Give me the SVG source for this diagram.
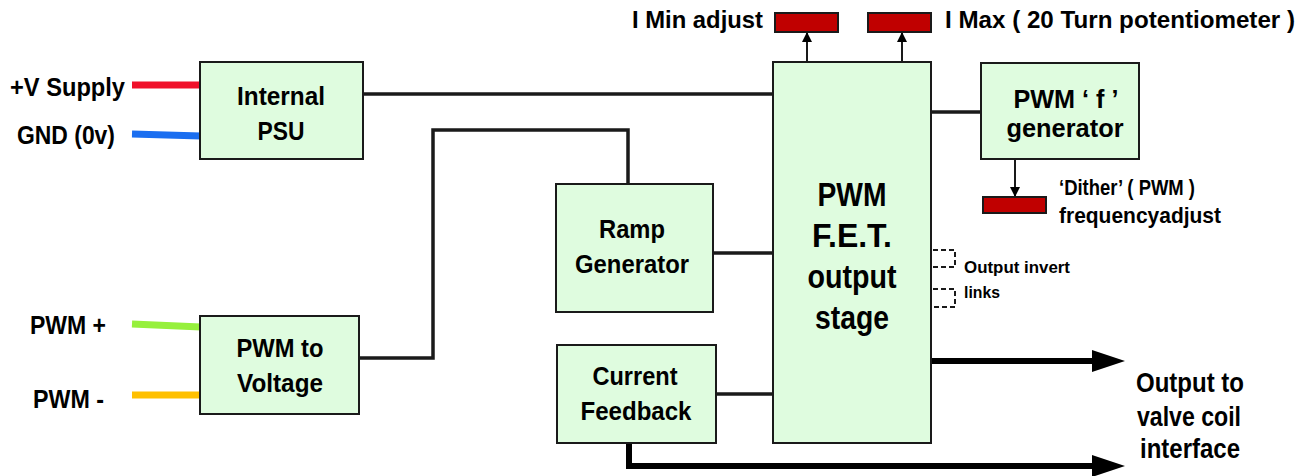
<svg xmlns="http://www.w3.org/2000/svg" width="1305" height="476" viewBox="0 0 1305 476">
<style>
text{font-family:"Liberation Sans",Arial,sans-serif;font-weight:bold;fill:#000}
.box{fill:#dffcdf;stroke:#1a1a1a;stroke-width:2}
.pot{fill:#c00000;stroke:#1a1a1a;stroke-width:2}
.ln{fill:none;stroke:#1a1a1a;stroke-width:3.5}
.thin{fill:none;stroke:#1a1a1a;stroke-width:2}
.thick{fill:none;stroke:#000;stroke-width:6}
.dash{fill:none;stroke:#1a1a1a;stroke-width:2;stroke-dasharray:5 3}
.bt{font-size:26px;text-anchor:middle}
.lbl{font-size:25px}
</style>
<defs>
<marker id="small" markerWidth="10" markerHeight="10" refX="9" refY="5" orient="auto" markerUnits="userSpaceOnUse">
<path d="M0,0 L10,5 L0,10 Z" fill="#000"/>
</marker>
<marker id="big" markerWidth="34" markerHeight="22" refX="0" refY="11" orient="auto" markerUnits="userSpaceOnUse">
<path d="M0,0 L33,11 L0,22 Z" fill="#000"/>
</marker>
</defs>
<rect width="1305" height="476" fill="#fff"/>

<g id="connectors">
<line x1="132" y1="85" x2="201" y2="85" stroke="#f0102a" stroke-width="7"/>
<line x1="132" y1="134" x2="201" y2="136" stroke="#1a6ef0" stroke-width="7"/>
<line x1="132" y1="324" x2="201" y2="327" stroke="#96f03c" stroke-width="7"/>
<line x1="132" y1="395" x2="201" y2="395" stroke="#ffc000" stroke-width="7"/>
<path class="ln" d="M363,94 H773"/>
<path class="ln" d="M359,358 H433 V130 H628 V184"/>
<path class="ln" d="M713,253 H773"/>
<path class="ln" d="M716,394 H773"/>
<path class="ln" d="M931,112 H981"/>
<path class="thin" d="M807,62 V33" marker-end="url(#small)"/>
<path class="thin" d="M902,62 V33" marker-end="url(#small)"/>
<path class="thin" d="M1015,159 V196" marker-end="url(#small)"/>
<path class="thick" d="M931,361 H1092" marker-end="url(#big)"/>
<path class="thick" d="M629,443 V466 H1092" marker-end="url(#big)"/>
<path class="dash" d="M933,250 H955 V267 H933"/>
<path class="dash" d="M933,289 H955 V307 H933"/>
</g>

<g id="psu">
<rect class="box" x="200" y="62" width="163" height="97"/>
<text class="bt" x="281" y="105" textLength="88" lengthAdjust="spacingAndGlyphs">Internal</text>
<text class="bt" x="281" y="140" textLength="47" lengthAdjust="spacingAndGlyphs">PSU</text>
</g>

<g id="pwm2v">
<rect class="box" x="200" y="316" width="159" height="98"/>
<text class="bt" x="280" y="357" textLength="87" lengthAdjust="spacingAndGlyphs">PWM to</text>
<text class="bt" x="280" y="392" textLength="86" lengthAdjust="spacingAndGlyphs">Voltage</text>
</g>

<g id="ramp">
<rect class="box" x="556" y="184" width="157" height="128"/>
<text class="bt" x="632" y="238" textLength="66" lengthAdjust="spacingAndGlyphs">Ramp</text>
<text class="bt" x="632" y="273" textLength="114" lengthAdjust="spacingAndGlyphs">Generator</text>
</g>

<g id="feedback">
<rect class="box" x="557" y="345" width="159" height="98"/>
<text class="bt" x="635" y="385" textLength="85" lengthAdjust="spacingAndGlyphs">Current</text>
<text class="bt" x="636" y="420" textLength="111" lengthAdjust="spacingAndGlyphs">Feedback</text>
</g>

<g id="fet">
<rect class="box" x="773" y="62" width="158" height="381"/>
<text x="852" y="206" style="font-size:33px;text-anchor:middle" textLength="69" lengthAdjust="spacingAndGlyphs">PWM</text>
<text x="852" y="247" style="font-size:33px;text-anchor:middle" textLength="80" lengthAdjust="spacingAndGlyphs">F.E.T.</text>
<text x="852" y="288" style="font-size:33px;text-anchor:middle" textLength="89" lengthAdjust="spacingAndGlyphs">output</text>
<text x="852" y="329" style="font-size:33px;text-anchor:middle" textLength="74" lengthAdjust="spacingAndGlyphs">stage</text>
</g>

<g id="fgen">
<rect class="box" x="981" y="63" width="158" height="96"/>
<text class="bt" x="1066" y="108" textLength="105" lengthAdjust="spacingAndGlyphs">PWM ‘ f ’</text>
<text class="bt" x="1065" y="137" textLength="117" lengthAdjust="spacingAndGlyphs">generator</text>
</g>

<g id="pots">
<rect class="pot" x="775" y="13" width="63" height="19"/>
<rect class="pot" x="868" y="13" width="63" height="19"/>
<rect class="pot" x="983" y="197" width="63" height="16"/>
</g>

<g id="labels">
<text class="lbl" x="10" y="96" textLength="115" lengthAdjust="spacingAndGlyphs">+V Supply</text>
<text class="lbl" x="17" y="144" textLength="98" lengthAdjust="spacingAndGlyphs">GND (0v)</text>
<text class="lbl" x="30" y="334" textLength="76" lengthAdjust="spacingAndGlyphs">PWM +</text>
<text class="lbl" x="33" y="408" textLength="71" lengthAdjust="spacingAndGlyphs">PWM -</text>
<text style="font-size:24px" x="632" y="28" textLength="131" lengthAdjust="spacingAndGlyphs">I Min adjust</text>
<text style="font-size:24px" x="945" y="28" textLength="350" lengthAdjust="spacingAndGlyphs">I Max ( 20 Turn potentiometer )</text>
<text style="font-size:22px" x="1059" y="195" textLength="136" lengthAdjust="spacingAndGlyphs">‘Dither’ ( PWM )</text>
<text style="font-size:22px" x="1059" y="223" textLength="162" lengthAdjust="spacingAndGlyphs">frequencyadjust</text>
<text style="font-size:17px" x="964" y="273" textLength="106" lengthAdjust="spacingAndGlyphs">Output invert</text>
<text style="font-size:17px" x="964" y="298" textLength="36" lengthAdjust="spacingAndGlyphs">links</text>
<text style="font-size:28px;text-anchor:middle" x="1190" y="392" textLength="108" lengthAdjust="spacingAndGlyphs">Output to</text>
<text style="font-size:28px;text-anchor:middle" x="1189" y="426" textLength="104" lengthAdjust="spacingAndGlyphs">valve coil</text>
<text style="font-size:28px;text-anchor:middle" x="1190" y="458" textLength="100" lengthAdjust="spacingAndGlyphs">interface</text>
</g>
</svg>
